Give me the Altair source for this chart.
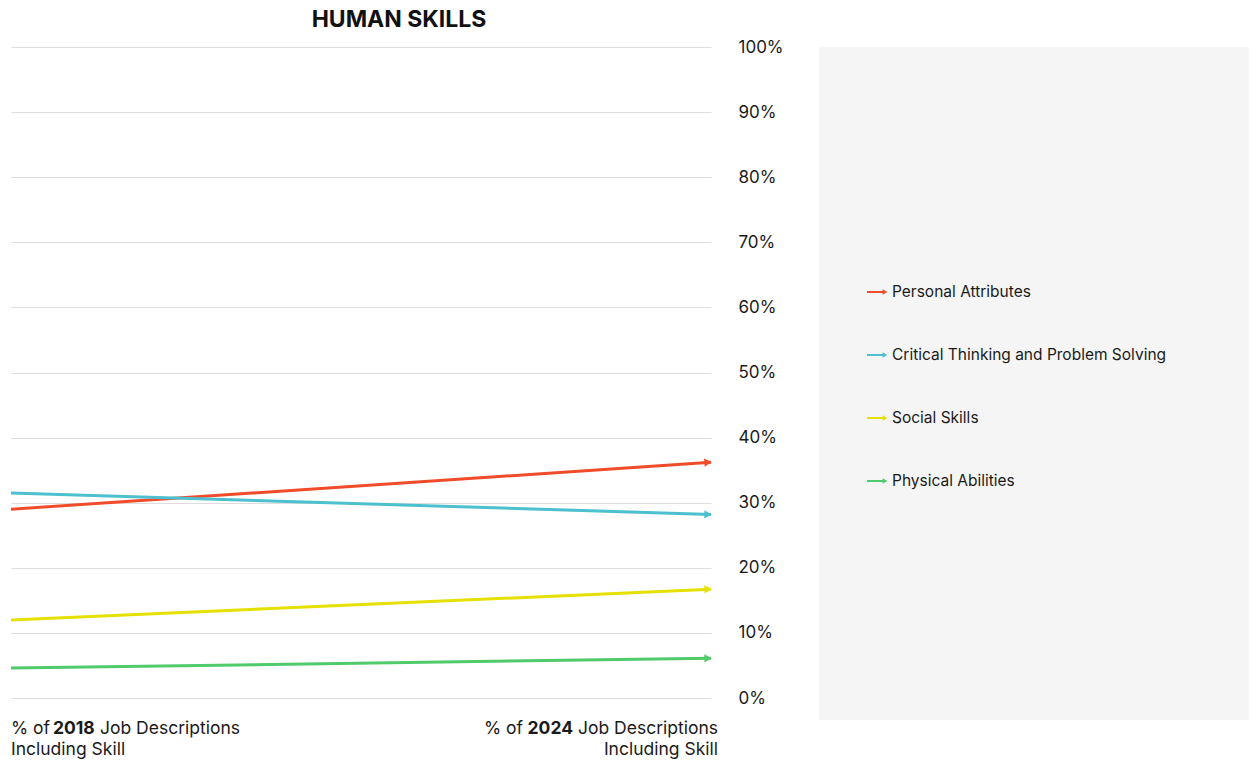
import altair as alt
import pandas as pd

# ---- data ----
series = ["Personal Attributes", "Critical Thinking and Problem Solving", "Social Skills", "Physical Abilities"]
colors = ["#F24B2A", "#4CC0CF", "#E6E000", "#4FCB6B"]
years = ["2018", "2024"]
values_2018 = [0.290, 0.315, 0.120, 0.046]
values_2024 = [0.362, 0.282, 0.167, 0.061]
y_ticks = [i / 10 for i in range(11)]

W, H = 700, 651
FONT = "Inter"
TXT = "#1a1a1a"

rows = []
for s, a, b in zip(series, values_2018, values_2024):
    rows.append({"series": s, "year": years[0], "value": a})
    rows.append({"series": s, "year": years[1], "value": b})
df = pd.DataFrame(rows)

ends = pd.DataFrame({"series": series, "year": years[1], "value": values_2024, "v0": values_2018})

color = alt.Color("series:N", scale=alt.Scale(domain=series, range=colors), legend=None)
x = alt.X("year:N", scale=alt.Scale(domain=years, type="point", padding=0), axis=None)
y = alt.Y("value:Q", scale=alt.Scale(domain=[0, 1], nice=False),
          axis=alt.Axis(orient="right", values=y_ticks, format=".0%", title=None,
                        domain=False, ticks=False, labelPadding=27, labelFontSize=17,
                        labelFont=FONT, labelColor=TXT, gridColor="#dddddd", gridWidth=1))

lines = alt.Chart(df).mark_line(strokeWidth=3).encode(x=x, y=y, color=color)

heads = alt.Chart(ends).transform_calculate(
    ang=f"(360 + atan2((datum.value - datum.v0) * {H}, {W}) * 180 / PI) % 360"
).transform_calculate(
    ang2="(360 - datum.ang) % 360"
).mark_point(shape="triangle-right", filled=True, size=70, opacity=1, xOffset=-3).encode(
    x=x, y=alt.Y("value:Q"), color=color, angle=alt.Angle("ang2:Q", scale=None)
)

# title
title = alt.Chart(pd.DataFrame({"t": ["HUMAN SKILLS"]})).mark_text(
    font=FONT, fontSize=23, fontWeight="bold", color="#111111", align="center", baseline="middle"
).encode(text="t:N", x=alt.value(388), y=alt.value(-27))

# bottom labels
lab_parts = pd.DataFrame({
    "year": [years[0], years[0], years[0], years[0], years[1], years[1], years[1], years[1]],
    "text": ["% of", years[0], "Job Descriptions", "Including Skill",
             "% of", years[1], "Job Descriptions", "Including Skill"],
    "line": [1, 1, 1, 2, 1, 1, 1, 2],
})

def label_layer(idx, align, dx, bold):
    d = lab_parts.iloc[[idx]]
    line = int(d["line"].iloc[0])
    return alt.Chart(d).mark_text(
        font=FONT, fontSize=17.5, fontWeight="bold" if bold else "normal", color=TXT,
        align=align, baseline="middle", dx=dx
    ).encode(text="text:N", x=x, y=alt.value(H + 31 if line == 1 else H + 52))

labels = [
    label_layer(0, "left", 0, False),
    label_layer(1, "left", 42, True),
    label_layer(2, "left", 89, False),
    label_layer(3, "left", 0, False),
    label_layer(4, "right", -188, False),
    label_layer(5, "right", -138, True),
    label_layer(6, "right", 7, False),
    label_layer(7, "right", 7, False),
]

main = alt.layer(lines, heads, title, *labels).properties(width=W, height=H)

# legend panel
leg = pd.DataFrame({"series": series})
ly = alt.Y("series:N", scale=alt.Scale(domain=series, type="point", padding=0, range=[245, 434]), axis=None)
leg_rule = alt.Chart(leg).mark_rule(strokeWidth=2).encode(
    x=alt.value(48), x2=alt.value(64), y=ly, color=color)
leg_head = alt.Chart(leg).mark_point(shape="triangle-right", filled=True, size=30, opacity=1).encode(
    x=alt.value(66), y=ly, color=color)
leg_text = alt.Chart(leg).mark_text(font=FONT, fontSize=15.5, color=TXT, align="left", baseline="middle").encode(
    x=alt.value(73), y=ly, text="series:N")
panel = alt.layer(leg_rule, leg_head, leg_text).properties(
    width=430, height=673, view=alt.ViewBackground(fill="#f5f5f5", strokeWidth=0))

chart = alt.hconcat(main, panel, spacing=108, bounds="flush").properties(
    padding={"left": -3, "top": 1, "right": 0, "bottom": 0}
).configure_view(strokeWidth=0)

chart.save("out.html", embed_options={"renderer": "svg", "actions": False})
